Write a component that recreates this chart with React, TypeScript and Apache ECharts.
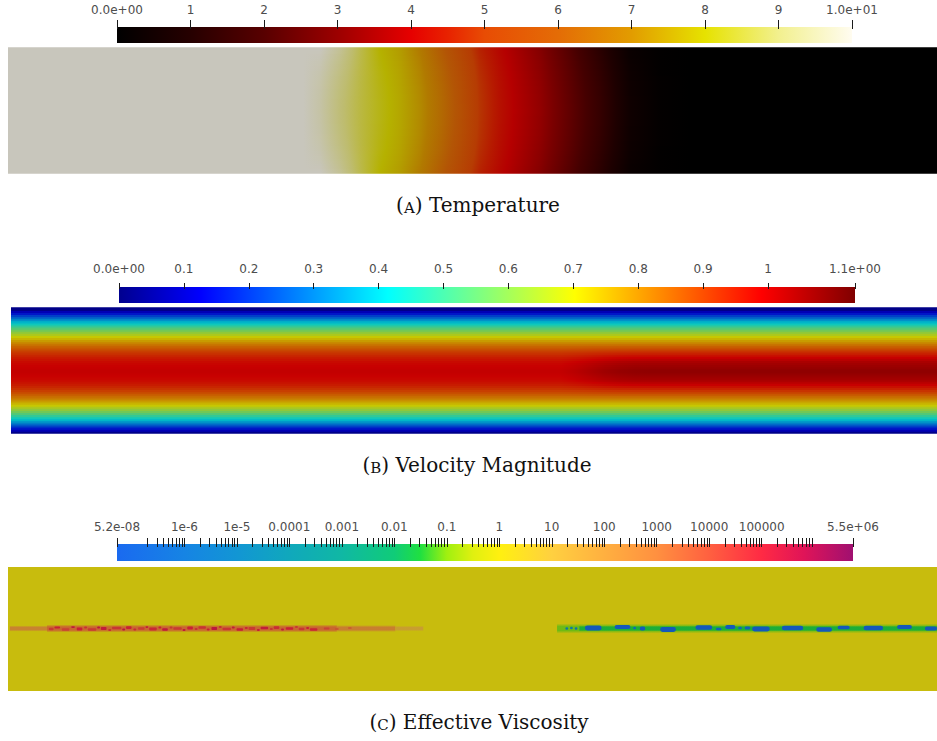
import React, { useEffect, useRef } from "react";
import * as echarts from "echarts";

// ---------------- Panel (A) Temperature ----------------
const tempMin = 0;
const tempMax = 10;
const tempTicks = [0, 1, 2, 3, 4, 5, 6, 7, 8, 9, 10];
const tempTickLabels = ["0.0e+00", "1", "2", "3", "4", "5", "6", "7", "8", "9", "1.0e+01"];
const tempMapValues = [0, 1, 2, 3, 4, 4.5, 5, 6, 7, 8, 9, 10];
const tempMapColors = ["#000000", "#260000", "#580000", "#9c0000", "#e60000", "#e82200", "#e84c04", "#e46c06", "#e29c00", "#e6e200", "#f2f08e", "#fffcf0"];
// channel position (0..10) and temperature read along the centre line and along the walls
const tempX = [0, 3.18, 3.36, 3.57, 3.79, 4.0, 4.22, 4.43, 4.65, 4.87, 5.08, 5.3, 5.44, 5.73, 6.05, 6.37, 6.7, 7.02, 7.34, 10];
const tempCenter = [10, 10, 9.7, 9.1, 8.6, 8.2, 7.8, 7.3, 6.6, 5.8, 4.9, 4.3, 4.0, 3.4, 2.5, 1.6, 0.5, 0.1, 0, 0];
const tempEdge = [10, 10, 10, 9.5, 8.7, 8.0, 7.6, 7.0, 6.2, 5.4, 4.6, 4.1, 3.8, 3.15, 2.25, 1.3, 0.3, 0.05, 0, 0];
const tempRowY = [0, 0.1, 0.2, 0.3, 0.4, 0.5, 0.6, 0.7, 0.8, 0.9, 1];
const tempRowWeight = [0, 0.36, 0.64, 0.84, 0.96, 1, 0.96, 0.84, 0.64, 0.36, 0];

// ---------------- Panel (B) Velocity magnitude ----------------
const velMin = 0;
const velMax = 1.134;
const velTicks = [0, 0.1, 0.2, 0.3, 0.4, 0.5, 0.6, 0.7, 0.8, 0.9, 1.0, 1.134];
const velTickLabels = ["0.0e+00", "0.1", "0.2", "0.3", "0.4", "0.5", "0.6", "0.7", "0.8", "0.9", "1", "1.1e+00"];
const velMapValues = [0, 0.126, 0.414, 0.558, 0.702, 0.99, 1.134];
const velMapColors = ["#00008f", "#0000ff", "#00ffff", "#80ff80", "#ffff00", "#ff0000", "#800000"];
// distance from wall (fraction of width) and velocity, upstream and downstream profiles
const velYFrac = [0, 0.02, 0.048, 0.07, 0.096, 0.12, 0.15, 0.18, 0.216, 0.25, 0.28, 0.32, 0.35, 0.39, 0.43, 0.5];
const velLeft = [0.0, 0.08, 0.18, 0.26, 0.35, 0.42, 0.51, 0.59, 0.68, 0.75, 0.81, 0.87, 0.91, 0.95, 0.98, 1.0];
const velRight = [0.0, 0.08, 0.18, 0.26, 0.35, 0.42, 0.51, 0.59, 0.68, 0.75, 0.81, 0.88, 0.93, 0.99, 1.04, 1.075];
const velX = [0, 5.93, 6.09, 6.25, 6.41, 6.58, 6.74, 6.9, 10];
const velBlend = [0, 0, 0.2, 0.45, 0.7, 0.88, 0.97, 1, 1];

// ---------------- Panel (C) Effective viscosity (log10) ----------------
const viscMin = -7.284; // log10(5.2e-8)
const viscMax = 6.74; // log10(5.5e6)
const viscEndLabels = ["5.2e-08", "5.5e+06"];
const viscMajorExp = [-6, -5, -4, -3, -2, -1, 0, 1, 2, 3, 4, 5];
const viscMajorLabels = ["1e-6", "1e-5", "0.0001", "0.001", "0.01", "0.1", "1", "10", "100", "1000", "10000", "100000"];
const viscMinorDecades = [-7, -6, -5, -4, -3, -2, -1, 0, 1, 2, 3, 4, 5];
const viscMinorMult = [2, 3, 4, 5, 6, 7, 8, 9];
const viscMapValues = [-7.284, -6, -5, -4, -3, -2, -1.5, -1, -0.5, 0, 1, 2, 3, 4, 5, 5.8, 6.74];
const viscMapColors = ["#1a6af0", "#1684e4", "#1296d4", "#10a8bc", "#10b8a4", "#10cc78", "#20e040", "#a0f010", "#e0f010", "#fff010", "#ffd040", "#ffb040", "#ff9040", "#ff6040", "#ff2a44", "#e01458", "#a01070"];
const viscBackground = 0; // log10(1)
// soft bands along the centre line: [x0, x1, yCentre, thickness, log10 value]
const viscBands = [
  [0.02, 0.42, 0.504, 0.05, 2.4],
  [0.42, 3.54, 0.504, 0.065, 3.4],
  [3.54, 4.17, 0.504, 0.055, 2.6],
  [4.17, 4.47, 0.504, 0.045, 1.3],
  [5.91, 10, 0.504, 0.08, -1.1],
  [6.15, 10, 0.504, 0.05, -1.6],
];
// high-viscosity speckles (left) and low-viscosity blobs (right): [x0, x1, yCentre, thickness, log10 value]
const viscSpots = [
  [0.44, 0.49, 0.5, 0.02, 4.4], [0.5, 0.56, 0.512, 0.016, 5.0], [0.58, 0.66, 0.496, 0.022, 4.2], [0.68, 0.72, 0.516, 0.014, 5.3],
  [0.74, 0.8, 0.5, 0.024, 5.0], [0.82, 0.85, 0.512, 0.016, 4.6], [0.86, 0.95, 0.496, 0.02, 4.4], [0.96, 0.99, 0.512, 0.016, 5.4],
  [1.0, 1.06, 0.504, 0.024, 5.2], [1.08, 1.11, 0.492, 0.016, 4.7], [1.12, 1.22, 0.508, 0.02, 4.5], [1.23, 1.26, 0.496, 0.016, 5.5],
  [1.27, 1.33, 0.512, 0.022, 5.0], [1.35, 1.38, 0.496, 0.016, 4.8], [1.4, 1.47, 0.504, 0.022, 4.3], [1.48, 1.51, 0.516, 0.014, 5.2],
  [1.52, 1.6, 0.5, 0.024, 4.8], [1.62, 1.65, 0.512, 0.016, 5.0], [1.66, 1.72, 0.496, 0.022, 5.3], [1.74, 1.77, 0.512, 0.016, 4.5],
  [1.78, 1.87, 0.504, 0.022, 4.4], [1.88, 1.91, 0.492, 0.016, 5.3], [1.93, 1.99, 0.508, 0.024, 5.0], [2.01, 2.04, 0.5, 0.016, 4.6],
  [2.05, 2.13, 0.512, 0.02, 4.6], [2.14, 2.17, 0.496, 0.016, 5.0], [2.19, 2.25, 0.504, 0.024, 5.4], [2.27, 2.3, 0.516, 0.016, 4.7],
  [2.31, 2.4, 0.5, 0.022, 4.5], [2.41, 2.44, 0.512, 0.016, 5.2], [2.46, 2.53, 0.496, 0.022, 5.1], [2.55, 2.58, 0.508, 0.016, 4.8],
  [2.59, 2.66, 0.504, 0.024, 4.4], [2.68, 2.71, 0.492, 0.016, 5.1], [2.72, 2.8, 0.508, 0.022, 5.2], [2.82, 2.85, 0.5, 0.016, 4.5],
  [2.86, 2.92, 0.512, 0.022, 4.7], [2.94, 2.97, 0.496, 0.016, 5.3], [2.99, 3.07, 0.504, 0.022, 5.0], [3.09, 3.12, 0.516, 0.016, 4.4],
  [3.13, 3.19, 0.5, 0.022, 4.5], [3.21, 3.24, 0.508, 0.016, 5.0], [3.25, 3.33, 0.496, 0.02, 4.9], [3.4, 3.46, 0.504, 0.016, 4.2],
  [3.52, 3.56, 0.5, 0.014, 3.9], [3.66, 3.7, 0.508, 0.012, 3.7],
  [6.0, 6.03, 0.504, 0.02, -5], [6.05, 6.08, 0.508, 0.02, -5], [6.1, 6.13, 0.504, 0.02, -5.5],
  [6.21, 6.39, 0.508, 0.04, -7], [6.53, 6.7, 0.516, 0.034, -7], [6.73, 6.76, 0.508, 0.02, -6],
  [6.8, 6.86, 0.504, 0.032, -7], [7.02, 7.19, 0.496, 0.04, -7], [7.4, 7.58, 0.512, 0.036, -7],
  [7.62, 7.68, 0.5, 0.022, -6.5], [7.72, 7.83, 0.516, 0.034, -7], [7.86, 7.9, 0.508, 0.022, -6],
  [7.93, 7.99, 0.508, 0.024, -6.5], [8.01, 8.2, 0.5, 0.04, -7], [8.33, 8.56, 0.508, 0.038, -7],
  [8.7, 8.87, 0.496, 0.038, -7], [8.93, 9.06, 0.512, 0.03, -7], [9.21, 9.42, 0.508, 0.038, -7],
  [9.57, 9.73, 0.516, 0.034, -7], [9.87, 10, 0.504, 0.032, -7],
];

const captions = [
  { letter: "A", title: "Temperature" },
  { letter: "B", title: "Velocity Magnitude" },
  { letter: "C", title: "Effective Viscosity" },
];

// ---------------- helpers ----------------
const FIELD_SHADE = 0.785;

function hexRgb(h: string): number[] {
  const n = parseInt(h.slice(1), 16);
  return [(n >> 16) & 255, (n >> 8) & 255, n & 255];
}
function colorAt(vals: number[], cols: string[], v: number, shade: number, alpha = 1): string {
  let rgb: number[];
  if (v <= vals[0]) rgb = hexRgb(cols[0]);
  else if (v >= vals[vals.length - 1]) rgb = hexRgb(cols[cols.length - 1]);
  else {
    let i = 0;
    while (i < vals.length - 2 && v > vals[i + 1]) i++;
    const t = (v - vals[i]) / (vals[i + 1] - vals[i]);
    const a = hexRgb(cols[i]);
    const b = hexRgb(cols[i + 1]);
    rgb = [a[0] + (b[0] - a[0]) * t, a[1] + (b[1] - a[1]) * t, a[2] + (b[2] - a[2]) * t];
  }
  const c = rgb.map((x) => Math.round(x * shade));
  return `rgba(${c[0]},${c[1]},${c[2]},${alpha})`;
}
// gradient stops along a run of values placed at fractional offsets
function runStops(vals: number[], cols: string[], vs: number[], os: number[], shade: number) {
  const out: { offset: number; color: string }[] = [];
  for (let k = 0; k < vs.length - 1; k++) {
    const a = vs[k], b = vs[k + 1], oa = os[k], ob = os[k + 1];
    out.push({ offset: oa, color: colorAt(vals, cols, a, shade) });
    if (a !== b) {
      const lo = Math.min(a, b), hi = Math.max(a, b);
      vals.filter((s) => s > lo && s < hi)
        .map((s) => ({ offset: oa + ((s - a) / (b - a)) * (ob - oa), color: colorAt(vals, cols, s, shade) }))
        .sort((p, q) => p.offset - q.offset)
        .forEach((s) => out.push(s));
    }
  }
  out.push({ offset: os[os.length - 1], color: colorAt(vals, cols, vs[vs.length - 1], shade) });
  return out;
}
function interp(xs: number[], ys: number[], x: number): number {
  if (x <= xs[0]) return ys[0];
  for (let i = 0; i < xs.length - 1; i++) {
    if (x <= xs[i + 1]) return ys[i] + ((ys[i + 1] - ys[i]) * (x - xs[i])) / (xs[i + 1] - xs[i]);
  }
  return ys[ys.length - 1];
}

// Each data item = one horizontal strip: [y0, y1, rowIndex]; colours follow rows[rowIndex] at node positions xs
function stripRenderer(vals: number[], cols: string[], shade: number, xs: number[], rows: number[][], overlap: number) {
  return (_p: any, api: any) => {
    const y0 = api.value(0), y1 = api.value(1), r = api.value(2);
    const x0 = xs[0], x1 = xs[xs.length - 1];
    const p0 = api.coord([x0, y1]);
    const p1 = api.coord([x1, y0]);
    const os = xs.map((x) => (x - x0) / (x1 - x0));
    const fill = new echarts.graphic.LinearGradient(0, 0, 1, 0, runStops(vals, cols, rows[r], os, shade));
    return {
      type: "rect",
      shape: { x: p0[0], y: p0[1] - overlap, width: p1[0] - p0[0], height: p1[1] - p0[1] + 2 * overlap },
      style: { fill },
    };
  };
}
// feature: [x0, x1, yc, h, value]; soft = vertical fade band
function featureRenderer(vals: number[], cols: string[], shade: number, soft: boolean) {
  return (_p: any, api: any) => {
    const x0 = api.value(0), x1 = api.value(1), yc = api.value(2), h = api.value(3), v = api.value(4);
    const p0 = api.coord([x0, yc + h / 2]);
    const p1 = api.coord([x1, yc - h / 2]);
    const w = p1[0] - p0[0];
    const hh = p1[1] - p0[1];
    if (soft) {
      return {
        type: "rect",
        shape: { x: p0[0], y: p0[1], width: w, height: hh },
        style: {
          fill: new echarts.graphic.LinearGradient(0, 0, 0, 1, [
            { offset: 0, color: colorAt(vals, cols, v, shade, 0) },
            { offset: 0.3, color: colorAt(vals, cols, v, shade, 0.95) },
            { offset: 0.7, color: colorAt(vals, cols, v, shade, 0.95) },
            { offset: 1, color: colorAt(vals, cols, v, shade, 0) },
          ]),
        },
      };
    }
    const rad = v < 0 ? Math.min(hh, w) / 2 : 0.8;
    return {
      type: "rect",
      shape: { x: p0[0], y: p0[1], width: w, height: hh, r: rad },
      style: { fill: colorAt(vals, cols, v, shade) },
    };
  };
}

function tempRows(N: number) {
  const rows: number[][] = [];
  const items: number[][] = [];
  for (let r = 0; r < N; r++) {
    const w = interp(tempRowY, tempRowWeight, (r + 0.5) / N);
    rows.push(tempX.map((_, i) => tempEdge[i] + (tempCenter[i] - tempEdge[i]) * w));
    items.push([r / N, (r + 1) / N, r]);
  }
  return { rows, items };
}
function velRows(N: number) {
  const n = velYFrac.length;
  const ys: number[] = [];
  const idx: number[] = [];
  for (let j = 0; j < n; j++) { ys.push(velYFrac[j]); idx.push(j); }
  for (let j = n - 2; j >= 0; j--) { ys.push(1 - velYFrac[j]); idx.push(j); }
  const left = idx.map((j) => velLeft[j]);
  const right = idx.map((j) => velRight[j]);
  const rows: number[][] = [];
  const items: number[][] = [];
  for (let r = 0; r < N; r++) {
    const ym = (r + 0.5) / N;
    const l = interp(ys, left, ym);
    const rr = interp(ys, right, ym);
    rows.push(velBlend.map((w) => l * (1 - w) + rr * w));
    items.push([r / N, (r + 1) / N, r]);
  }
  return { rows, items };
}

function colorbarAxes(gridIndex: number, min: number, max: number, ticks: number[], labelVals: number[], labels: string[], offset: number, tickLen: number, margin: number) {
  return {
    x: {
      gridIndex, type: "value", position: "top", min, max, offset, z: 10,
      axisLine: { show: false, onZero: false }, splitLine: { show: false },
      axisTick: { show: true, inside: false, length: tickLen, lineStyle: { color: "#1a1a1a", width: 1 }, customValues: ticks },
      axisLabel: {
        show: true, customValues: labelVals, margin,
        color: "#4d4d4d", fontFamily: "DejaVu Sans", fontSize: 12,
        formatter: (v: number) => {
          for (let i = 0; i < labelVals.length; i++) if (Math.abs(labelVals[i] - v) < 1e-6) return labels[i];
          return "";
        },
      },
    },
    y: { gridIndex, type: "value", min: 0, max: 1, show: false },
  };
}

export default function App() {
  const ref = useRef<HTMLDivElement>(null);
  useEffect(() => {
    if (!ref.current) return;
    const chart = echarts.init(ref.current, null, { renderer: "svg" });

    const viscLabelVals = [viscMin, ...viscMajorExp, viscMax];
    const viscLabels = [viscEndLabels[0], ...viscMajorLabels, viscEndLabels[1]];
    const viscTickVals: number[] = [viscMin, ...viscMajorExp, viscMax];
    viscMinorDecades.forEach((d) => viscMinorMult.forEach((m) => viscTickVals.push(d + Math.log10(m))));

    const cbA = colorbarAxes(0, tempMin, tempMax, tempTicks, tempTicks, tempTickLabels, -2, 9, 13);
    const cbB = colorbarAxes(2, velMin, velMax, velTicks, velTicks, velTickLabels, -2, 6, 14);
    const cbC = colorbarAxes(4, viscMin, viscMax, viscTickVals, viscLabelVals, viscLabels, -3, 9, 14);

    const fieldX = (g: number) => ({ gridIndex: g, type: "value", min: 0, max: 10, show: false });
    const fieldY = (g: number) => ({ gridIndex: g, type: "value", min: 0, max: 1, show: false });

    const T = tempRows(50);
    const V = velRows(60);

    const capStyle = (c: { letter: string; title: string }) => ({
      text: `{n|(}{s|${c.letter}}{n|) ${c.title}}`,
      align: "center",
      verticalAlign: "middle",
      fill: "#111",
      rich: {
        n: { fontFamily: "DejaVu Serif", fontSize: 20, fill: "#111", verticalAlign: "bottom" },
        s: { fontFamily: "DejaVu Serif", fontSize: 15, fill: "#111", verticalAlign: "bottom" },
      },
    });

    const cbSeries = (i: number, vals: number[], cols: string[]) => ({
      type: "custom", xAxisIndex: i, yAxisIndex: i, silent: true, z: 2,
      renderItem: stripRenderer(vals, cols, 1, vals, [vals], 0),
      data: [[0, 1, 0]],
    });

    const option: any = {
      animation: false,
      backgroundColor: "#ffffff",
      grid: [
        { left: 117, top: 27, width: 735, height: 16, outerBoundsMode: "none" },
        { left: 8, top: 48, width: 929, height: 125, outerBoundsMode: "none" },
        { left: 119, top: 287, width: 736, height: 16, outerBoundsMode: "none" },
        { left: 11, top: 308, width: 926, height: 125, outerBoundsMode: "none" },
        { left: 117, top: 544, width: 736, height: 17, outerBoundsMode: "none" },
        { left: 8, top: 567, width: 929, height: 124, outerBoundsMode: "none" },
      ],
      xAxis: [cbA.x, fieldX(1), cbB.x, fieldX(3), cbC.x, fieldX(5)],
      yAxis: [cbA.y, fieldY(1), cbB.y, fieldY(3), cbC.y, fieldY(5)],
      series: [
        cbSeries(0, tempMapValues, tempMapColors),
        { type: "custom", name: "temperature", xAxisIndex: 1, yAxisIndex: 1, silent: true,
          renderItem: stripRenderer(tempMapValues, tempMapColors, FIELD_SHADE, tempX, T.rows, 0.8), data: T.items },
        cbSeries(2, velMapValues, velMapColors),
        { type: "custom", name: "velocity", xAxisIndex: 3, yAxisIndex: 3, silent: true,
          renderItem: stripRenderer(velMapValues, velMapColors, FIELD_SHADE, velX, V.rows, 0.8), data: V.items },
        cbSeries(4, viscMapValues, viscMapColors),
        { type: "custom", name: "viscosity", xAxisIndex: 5, yAxisIndex: 5, silent: true,
          renderItem: stripRenderer(viscMapValues, viscMapColors, FIELD_SHADE, [0, 10], [[viscBackground, viscBackground]], 0),
          data: [[0, 1, 0]] },
        { type: "custom", name: "viscosity bands", xAxisIndex: 5, yAxisIndex: 5, silent: true,
          renderItem: featureRenderer(viscMapValues, viscMapColors, FIELD_SHADE, true), data: viscBands },
        { type: "custom", name: "viscosity spots", xAxisIndex: 5, yAxisIndex: 5, silent: true,
          renderItem: featureRenderer(viscMapValues, viscMapColors, FIELD_SHADE, false), data: viscSpots },
      ],
      graphic: [
        { type: "text", x: 478, y: 205, style: capStyle(captions[0]) },
        { type: "text", x: 477, y: 465, style: capStyle(captions[1]) },
        { type: "text", x: 479, y: 722, style: capStyle(captions[2]) },
      ],
    };
    chart.setOption(option);
    return () => chart.dispose();
  }, []);
  return <div ref={ref} style={{ position: "absolute", left: 0, top: 0, width: 937, height: 741 }} />;
}
